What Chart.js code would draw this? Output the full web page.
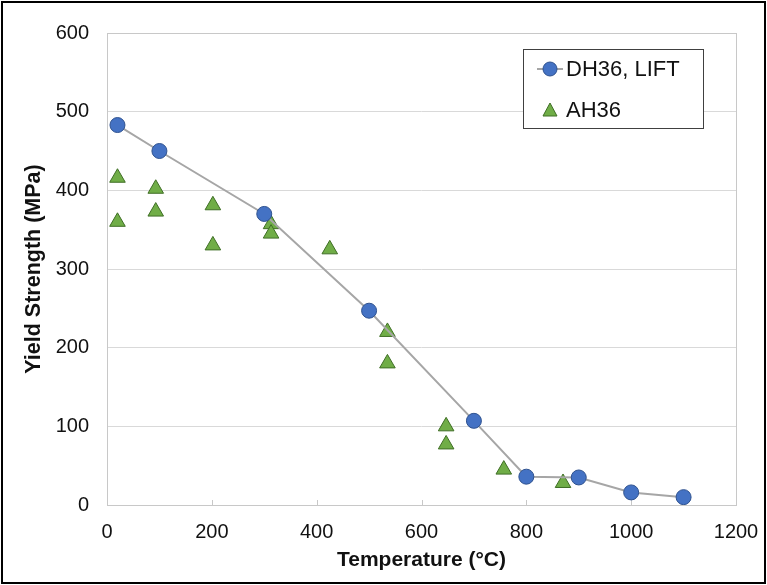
<!DOCTYPE html>
<html lang="en">
<head>
    <meta charset="UTF-8">
    <title>Yield Strength vs Temperature</title>
    <script src="https://cdn.jsdelivr.net/npm/chart.js"></script>
    <style>
        body {
            margin: 0;
            padding: 0;
            background: #fff;
        }
        #wrap {
            position: relative;
            width: 767px;
            height: 585px;
        }
    </style>
</head>
<body>
<div id="wrap"><canvas id="chart" width="767" height="585"></canvas></div>
<script>
// DH36, LIFT series
const dhTemps = [20, 100, 300, 500, 700, 800, 900, 1000, 1100];
const dhYield = [483, 450, 370, 247, 107, 36, 35, 16, 10];

// AH36 series
const ahTemps = [20, 20, 93, 93, 202, 202, 313, 313, 425, 535, 535, 647, 647, 757, 870];
const ahYield = [416, 360, 402, 373, 381, 330, 357, 345, 325, 220, 180, 100, 77, 45, 28];

const xTicks = [0, 200, 400, 600, 800, 1000, 1200];
const yTicks = [0, 100, 200, 300, 400, 500, 600];

const seriesNames = ['DH36, LIFT', 'AH36'];

const FONT = "'Liberation Sans', Arial, sans-serif";

function pts(xs, ys) {
    return xs.map((x, i) => ({x: x, y: ys[i]}));
}

// frame, plot border, inside tick marks and the boxed legend
const decorations = {
    id: 'decorations',
    beforeDatasetsDraw(chart) {
        const {ctx, chartArea: a, scales} = chart;
        ctx.save();
        ctx.strokeStyle = '#c8c8c8';
        ctx.lineWidth = 1;
        ctx.strokeRect(a.left + 0.5, a.top + 0.5, a.right - a.left, a.bottom - a.top);
        ctx.beginPath();
        xTicks.slice(1, -1).forEach(v => {
            const px = Math.round(scales.x.getPixelForValue(v)) + 0.5;
            ctx.moveTo(px, a.bottom);
            ctx.lineTo(px, a.bottom - 5);
        });
        ctx.stroke();
        ctx.restore();
    },
    afterDraw(chart) {
        const ctx = chart.ctx;
        ctx.save();
        // outer frame
        ctx.strokeStyle = '#000';
        ctx.lineWidth = 2;
        ctx.strokeRect(2, 2, 763, 581);

        // legend
        const bx = 523, by = 49, bw = 180, bh = 79;
        ctx.fillStyle = '#fff';
        ctx.fillRect(bx, by, bw, bh);
        ctx.strokeStyle = '#404040';
        ctx.lineWidth = 1;
        ctx.strokeRect(bx + 0.5, by + 0.5, bw, bh);

        const ds = chart.data.datasets;
        ctx.font = '22px ' + FONT;
        ctx.textBaseline = 'middle';
        ctx.textAlign = 'left';

        // entry 1: line + circle
        let y = 69;
        ctx.strokeStyle = ds[0].borderColor;
        ctx.lineWidth = 2;
        ctx.beginPath();
        ctx.moveTo(537, y);
        ctx.lineTo(563, y);
        ctx.stroke();
        ctx.beginPath();
        ctx.arc(550, y, 7, 0, Math.PI * 2);
        ctx.fillStyle = ds[0].pointBackgroundColor;
        ctx.fill();
        ctx.strokeStyle = ds[0].pointBorderColor;
        ctx.lineWidth = 1;
        ctx.stroke();
        ctx.fillStyle = '#111';
        ctx.fillText(seriesNames[0], 566, y + 1);

        // entry 2: triangle
        y = 110;
        ctx.beginPath();
        ctx.moveTo(550, y - 7);
        ctx.lineTo(557, y + 6);
        ctx.lineTo(543, y + 6);
        ctx.closePath();
        ctx.fillStyle = ds[1].pointBackgroundColor;
        ctx.fill();
        ctx.strokeStyle = ds[1].pointBorderColor;
        ctx.stroke();
        ctx.fillStyle = '#111';
        ctx.fillText(seriesNames[1], 566, y + 1);
        ctx.restore();
    }
};

new Chart(document.getElementById('chart'), {
    type: 'scatter',
    data: {
        datasets: [
            {
                label: seriesNames[0],
                data: pts(dhTemps, dhYield),
                showLine: true,
                borderColor: '#a6a6a6',
                borderWidth: 2,
                pointStyle: 'circle',
                pointRadius: 7.5,
                pointBackgroundColor: '#4472c4',
                pointBorderColor: '#2f528f',
                pointBorderWidth: 1,
                order: 1
            },
            {
                label: seriesNames[1],
                data: pts(ahTemps, ahYield),
                showLine: false,
                pointStyle: 'triangle',
                pointRadius: 9,
                pointBackgroundColor: '#70ad47',
                pointBorderColor: '#3f6e25',
                pointBorderWidth: 1,
                order: 2
            }
        ]
    },
    options: {
        responsive: false,
        animation: false,
        layout: {padding: {left: 17, right: 31, top: 33, bottom: 8}},
        plugins: {
            legend: {display: false},
            tooltip: {enabled: false}
        },
        scales: {
            x: {
                type: 'linear',
                min: 0,
                max: 1200,
                afterBuildTicks: axis => { axis.ticks = xTicks.map(v => ({value: v})); },
                afterFit: axis => { axis.height = 72; axis.paddingRight = 0; axis.paddingLeft = 0; },
                grid: {display: false},
                border: {display: false},
                ticks: {color: '#111', font: {family: FONT, size: 20}, padding: 7, maxRotation: 0,
                        callback: v => String(v)},
                title: {
                    display: true,
                    text: 'Temperature (°C)',
                    color: '#111',
                    font: {family: FONT, size: 21, weight: 'bold'},
                    padding: {top: 5}
                }
            },
            y: {
                min: 0,
                max: 600,
                afterBuildTicks: axis => { axis.ticks = yTicks.map(v => ({value: v})); },
                afterFit: axis => { axis.width = 90; },
                grid: {color: '#d9d9d9', drawTicks: false},
                border: {display: false},
                ticks: {color: '#111', font: {family: FONT, size: 20}, padding: 18,
                        callback: v => String(v)},
                title: {
                    display: true,
                    text: 'Yield Strength (MPa)',
                    color: '#111',
                    font: {family: FONT, size: 21.5, weight: 'bold'},
                    padding: {bottom: 4}
                }
            }
        }
    },
    plugins: [decorations]
});
</script>
</body>
</html>
